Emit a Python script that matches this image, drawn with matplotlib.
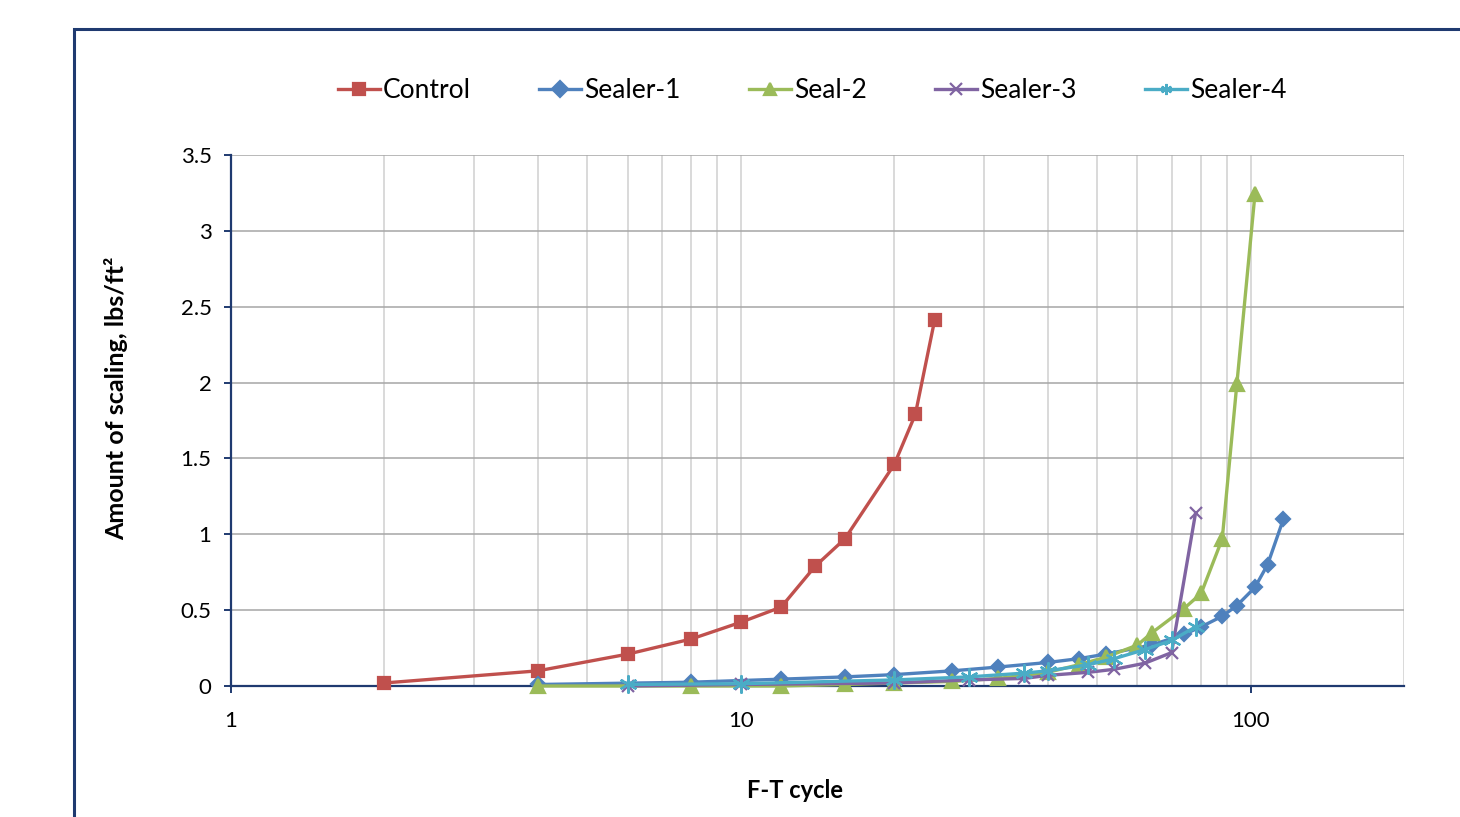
import numpy as np
import matplotlib
matplotlib.use('Agg')
import matplotlib.pyplot as plt
from matplotlib.ticker import FixedLocator, LogLocator, NullFormatter, FuncFormatter
from matplotlib.patches import Rectangle

plt.rcParams['font.family'] = ['Lato', 'DejaVu Sans']

# F-T cycles and scaling (lbs/ft2)
control_x = [2, 4, 6, 8, 10, 12, 14, 16, 20, 22, 24]
control_y = [0.02, 0.10, 0.21, 0.31, 0.42, 0.52, 0.79, 0.97, 1.46, 1.79, 2.41]

sealer1_x = [4, 8, 12, 16, 20, 26, 32, 40, 46, 52, 64, 74, 80, 88, 94, 102, 108, 116]
sealer1_y = [0.01, 0.025, 0.045, 0.06, 0.075, 0.10, 0.125, 0.155, 0.18, 0.21,
             0.27, 0.34, 0.39, 0.46, 0.53, 0.65, 0.80, 1.10]

seal2_x = [4, 8, 12, 16, 20, 26, 32, 40, 46, 52, 60, 64, 74, 80, 88, 94, 102]
seal2_y = [0.0, 0.0, 0.0, 0.01, 0.02, 0.03, 0.05, 0.09, 0.14, 0.19,
           0.27, 0.35, 0.51, 0.61, 0.97, 1.99, 3.24]

sealer3_x = [6, 10, 20, 28, 36, 40, 48, 54, 62, 70, 78]
sealer3_y = [0.0, 0.01, 0.02, 0.04, 0.05, 0.07, 0.09, 0.11, 0.15, 0.22, 1.14]

sealer4_x = [6, 10, 20, 28, 36, 40, 48, 54, 62, 70, 78]
sealer4_y = [0.01, 0.015, 0.04, 0.06, 0.085, 0.10, 0.14, 0.18, 0.24, 0.30, 0.39]

series = [
    ('Control', control_x, control_y, '#C0504D', 's', 9),
    ('Sealer-1', sealer1_x, sealer1_y, '#4F81BD', 'D', 7),
    ('Seal-2', seal2_x, seal2_y, '#9BBB59', '^', 10),
    ('Sealer-3', sealer3_x, sealer3_y, '#8064A2', 'x', 9),
    ('Sealer-4', sealer4_x, sealer4_y, '#4BACC6', (6, 2, 0), 13),
]

fig = plt.figure(figsize=(14.6, 8.17), dpi=100)
ax = fig.add_axes([231/1460, 1-686/817, (1404-231)/1460, (686-155)/817])

for name, xs, ys, col, mk, ms in series:
    ax.plot(xs, ys, color=col, lw=2.4, marker=mk, markersize=ms,
            markeredgecolor=col, markerfacecolor=col, markeredgewidth=1.6,
            label=name, clip_on=False, zorder=3)

ax.set_xscale('log')
ax.set_xlim(1, 200)
ax.set_ylim(0, 3.5)
ax.set_yticks(np.arange(0, 3.51, 0.5))
ax.yaxis.set_major_formatter(FuncFormatter(lambda v, p: '%g' % v))
ax.xaxis.set_major_locator(FixedLocator([1, 10, 100]))
ax.xaxis.set_major_formatter(FuncFormatter(lambda v, p: '%g' % v))
ax.xaxis.set_minor_locator(LogLocator(base=10, subs=np.arange(2, 10)))
ax.xaxis.set_minor_formatter(NullFormatter())

ax.grid(True, which='major', axis='y', color='#A6A6A6', lw=1.1)
ax.grid(True, which='both', axis='x', color='#D0D0D0', lw=1.1)
ax.set_axisbelow(True)

for s in ['top', 'right']:
    ax.spines[s].set_visible(False)
for s in ['left', 'bottom']:
    ax.spines[s].set_color('#1F3A70')
    ax.spines[s].set_linewidth(1.6)

ax.tick_params(axis='both', which='major', direction='out', length=5, width=1.4,
               color='#1F3A70', labelsize=16, labelcolor='black')
ax.tick_params(axis='y', pad=9)
ax.tick_params(axis='x', pad=13)
ax.tick_params(axis='x', which='minor', length=0)

ax.set_ylabel('Amount of scaling, lbs/ft²', fontsize=18, fontweight='bold')
ax.yaxis.set_label_coords(-0.088, 0.542)
ax.set_xlabel('F-T cycle', fontsize=17, fontweight='bold')
ax.xaxis.set_label_coords(0.481, -0.175)

leg = fig.legend(loc='center', bbox_to_anchor=(812/1460, 1-91/817), ncol=5,
                 frameon=False, fontsize=19, handlelength=1.6, handletextpad=0.1,
                 columnspacing=2.6)
for h in leg.legend_handles:
    h.set_markersize(8)

# outer chart frame, runs off the right and bottom edge
fig.patches.append(Rectangle((74/1460, -0.2), 1.2, 1-29/817+0.2, transform=fig.transFigure,
                             fill=False, edgecolor='#1F3A70', lw=2.2))

plt.savefig('out.png', dpi=100)
